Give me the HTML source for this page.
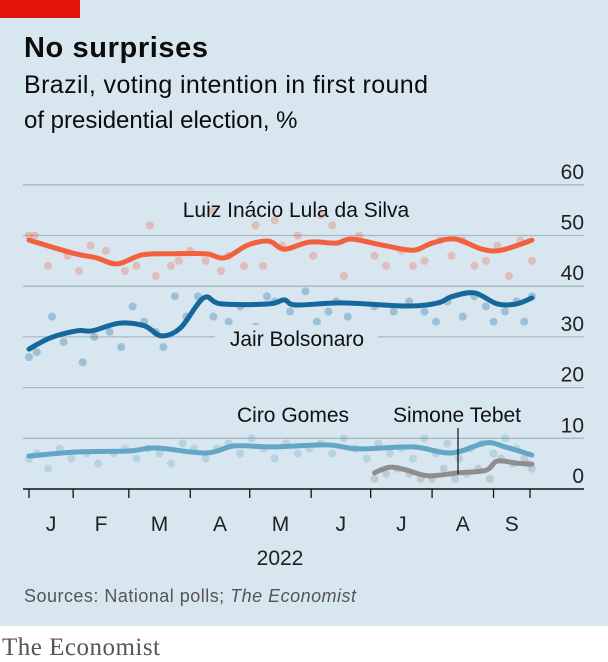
<!DOCTYPE html>
<html><head><meta charset="utf-8"><style>
body{margin:0;background:#fff;}
#wrap{position:relative;width:608px;height:662px;overflow:hidden;font-family:"Liberation Sans Narrow","Liberation Sans",sans-serif;}
</style></head><body>
<div id="wrap">
<svg id="chart" width="608" height="662" viewBox="0 0 608 662" xmlns="http://www.w3.org/2000/svg">
<rect x="0" y="0" width="608" height="626" fill="#d7e6ef"/>
<rect x="0" y="0" width="80" height="18" fill="#e3120b"/>
<text x="24" y="57" font-family="Liberation Sans, sans-serif" font-weight="bold" font-size="29" textLength="184" fill="#0c0c0c">No surprises</text>
<text x="24" y="93" font-family="Liberation Sans, sans-serif" font-size="25" textLength="404" fill="#0c0c0c">Brazil, voting intention in first round</text>
<text x="24" y="128" font-family="Liberation Sans, sans-serif" font-size="24" fill="#0c0c0c">of presidential election, %</text>
<g id="grid"></g>
<g id="dots"></g>
<g id="lines"></g>
<g id="labels"></g>
<text x="24" y="602" font-family="Liberation Sans, sans-serif" font-size="18" textLength="332" fill="#555">Sources: National polls; <tspan font-style="italic">The Economist</tspan></text>
<text x="2" y="655" font-family="Liberation Serif, serif" font-size="25" textLength="158" fill="#555">The Economist</text>
</svg>
</div>
<script>
const yTicks=[0,10,20,30,40,50,60];
const monthLabels=["J","F","M","A","M","J","J","A","S"];
const monthTickDays=[0,23,52,84,115,147,178,210,242,261];
// line series: day index (x) and value
const lulaDays=[0,23,35,46,59,75,92,102,114,125,133,146,160,168,184,200,210,222,236,246,262];
const lulaVals=[49.1,46.5,45.6,44.4,46.2,46.4,46.4,45.6,48.1,48.9,47.3,48.7,48.5,49.3,48.1,47.1,48.5,49.3,47.3,47.1,49.1];
const bolsoDays=[0,11,25,33,47,60,69,79,91,100,125,133,139,163,197,213,220,232,244,254,262];
const bolsoVals=[27.6,29.8,31.2,31.2,32.7,32.2,30.2,31.8,37.7,36.5,36.5,37.3,36.3,36.7,36.1,36.7,37.9,38.7,36.5,36.5,37.7];
const ciroDays=[0,25,52,66,92,107,127,155,172,200,220,238,248,262];
const ciroVals=[6.5,7.3,7.5,8.1,7.1,8.5,8.3,8.7,7.9,8.3,7.1,9.1,8.3,6.7];
const tebetDays=[180,188,197,208,224,238,244,254,262];
const tebetVals=[3.2,4.3,3.7,2.6,3.2,3.7,5.5,5.1,4.9];
// poll dots
const lulaDotDays=[0,3,10,20,26,32,40,50,56,63,66,74,78,84,92,96,100,104,112,118,122,128,132,140,148,152,158,164,172,180,186,194,200,206,214,220,226,232,238,244,250,256,262];
const lulaDotVals=[50,50,44,46,43,48,47,43,44,52,42,44,45,47,45,55,43,46,44,52,44,53,48,50,46,54,52,42,50,46,44,47,44,45,49,46,49,44,45,48,42,49,45];
const bolsoDotDays=[0,4,12,18,28,34,42,48,54,60,66,70,76,82,88,96,104,110,118,124,128,136,144,150,156,160,166,172,180,190,198,206,212,218,226,232,238,242,248,254,258,262];
const bolsoDotVals=[26,27,34,29,25,30,31,28,36,33,31,28,38,34,38,34,33,36,32,38,37,35,39,33,35,37,34,31,36,35,37,35,33,37,34,38,36,33,35,37,33,38];
const ciroDotDays=[0,4,10,16,22,30,36,44,50,56,62,68,74,80,86,92,98,104,110,116,122,128,134,140,146,152,158,164,170,176,182,188,194,200,206,212,218,224,230,236,242,248,254,260];
const ciroDotVals=[6,7,4,8,6,7,5,7,8,6,8,7,5,9,8,6,8,9,7,10,8,6,9,7,8,9,7,10,8,6,9,7,8,6,10,7,9,6,8,9,7,10,8,5];
const tebetDotDays=[180,186,192,198,204,210,216,222,228,234,240,246,252,258,262];
const tebetDotVals=[2,3,4,3,2,2,4,2,3,4,2,6,5,6,4];

const NS="http://www.w3.org/2000/svg";
const X0=29,X1=530,D1=261;
const xs=d=>X0+(X1-X0)*d/D1;
const ys=v=>489-v*5.07;
function mk(tag,attrs,parent){const e=document.createElementNS(NS,tag);for(const k in attrs)e.setAttribute(k,attrs[k]);document.getElementById(parent).appendChild(e);return e;}
const fnt='"Liberation Sans Narrow","Liberation Sans",sans-serif';
yTicks.forEach(v=>{
  if(v>0){const l=mk('line',{x1:23,x2:584,y1:ys(v),y2:ys(v),stroke:'#a9b8c1','stroke-width':1.3},'grid');
  
  }
  const t=mk('text',{x:584,y:ys(v)-6,'text-anchor':'end','font-size':21,'font-family':fnt,fill:'#222'},'grid');
  t.textContent=v;
  
  
});
const ax=mk('line',{x1:23,x2:584,y1:489,y2:489,stroke:'#111','stroke-width':1.5},'grid');


monthTickDays.forEach((d,i)=>{
  const t=mk('line',{x1:xs(d),x2:xs(d),y1:489,y2:498,stroke:'#111','stroke-width':1.3},'grid');
  
  
  if(i<monthLabels.length){
    const l=mk('text',{x:(xs(d)+xs(monthTickDays[i+1]))/2,y:531,'text-anchor':'middle','font-size':21,'font-family':fnt,fill:'#222'},'grid');
    l.textContent=monthLabels[i];
    
    
  }
});
const yr=mk('text',{x:280,y:565,'text-anchor':'middle','font-size':21,'font-family':fnt,fill:'#222'},'grid');
yr.textContent='2022';



function dots(days,vals,color,name){
  days.forEach((d,i)=>{const c=mk('circle',{cx:xs(d),cy:ys(vals[i]),r:4,fill:color,opacity:0.3},'dots');
  
  });
}
dots(lulaDotDays,lulaDotVals,'#f0603e','lula-poll-dot');
dots(bolsoDotDays,bolsoDotVals,'#1c6a9c','bolsonaro-poll-dot');
dots(ciroDotDays,ciroDotVals,'#62a8c8','ciro-poll-dot');
dots(tebetDotDays,tebetDotVals,'#8c8c8c','tebet-poll-dot');

function line(days,vals,color,name){
  const P=days.map((d,i)=>[xs(d),ys(vals[i])]);
  let p='M'+P[0][0].toFixed(1)+','+P[0][1].toFixed(1);
  for(let i=0;i<P.length-1;i++){
    const p0=P[Math.max(0,i-1)],p1=P[i],p2=P[i+1],p3=P[Math.min(P.length-1,i+2)];
    const c1=[p1[0]+(p2[0]-p0[0])/6,p1[1]+(p2[1]-p0[1])/6];
    const c2=[p2[0]-(p3[0]-p1[0])/6,p2[1]-(p3[1]-p1[1])/6];
    p+='C'+c1[0].toFixed(1)+','+c1[1].toFixed(1)+' '+c2[0].toFixed(1)+','+c2[1].toFixed(1)+' '+p2[0].toFixed(1)+','+p2[1].toFixed(1);
  }
  const e=mk('path',{d:p,fill:'none',stroke:color,'stroke-width':5,'stroke-linejoin':'round','stroke-linecap':'round'},'lines');
  
  
}
line(lulaDays,lulaVals,'#f2603f','lula-line');
line(bolsoDays,bolsoVals,'#14689b','bolsonaro-line');
line(ciroDays,ciroVals,'#63a6c6','ciro-line');
line(tebetDays,tebetVals,'#8e8e8e','tebet-line');

const pl=mk('line',{x1:458,x2:458,y1:428,y2:474,stroke:'#111','stroke-width':1.2},'labels');


const bg=mk('rect',{x:215,y:325,width:163,height:26,fill:'#d7e6ef'},'labels');


[['Luiz Inácio Lula da Silva',296,217,'lula-label'],['Jair Bolsonaro',297,346,'bolsonaro-label'],['Ciro Gomes',293,422,'ciro-label'],['Simone Tebet',457,422,'tebet-label']].forEach(a=>{
  const t=mk('text',{x:a[1],y:a[2],'text-anchor':'middle','font-size':21,'font-family':fnt,fill:'#111'},'labels');
  t.textContent=a[0];
  
  
});
</script>
</body></html>
